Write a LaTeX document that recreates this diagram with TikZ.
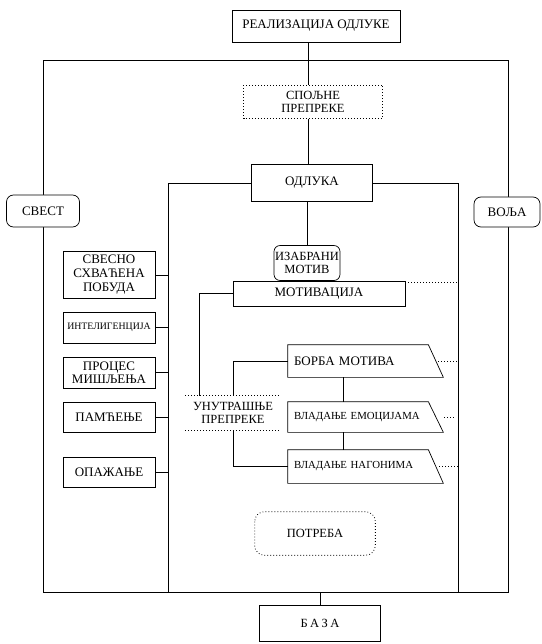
\documentclass[tikz,border=0pt]{standalone}
\usepackage{fontspec}
\setmainfont{Liberation Serif}
\usetikzlibrary{calc}
\begin{document}
\begin{tikzpicture}[x=1pt,y=-1pt,
  ln/.style={line width=0.7pt},
  dln/.style={line width=0.8pt, dash pattern=on 0.8pt off 2.2pt},
  box/.style={draw, line width=0.7pt, inner sep=2pt, align=center, fill=white,
    font=\fontsize{13}{14}\selectfont},
  rbox/.style={box, rounded corners=6pt},
  dbox/.style={box, draw=none},
  parabox/.style={box, draw=none, fill=none, text width=128pt, align=left, inner sep=6pt,
    minimum width=140pt}
]
\useasboundingbox (0,0) rectangle (541,644);

% frame coordinates
\coordinate (oTL) at (43,60);
\coordinate (oBR) at (508,592);
\coordinate (sp) at (308,60);
\coordinate (iL) at (168,0);
\coordinate (iR) at (458,0);
\coordinate (vx) at (343,0);

\draw[ln] (oTL) rectangle (oBR);

% nodes
\node[box, minimum width=168pt, minimum height=32pt] (real) at (316,26) {РЕАЛИЗАЦИЈА ОДЛУКЕ};
\node[dbox, minimum width=138pt, minimum height=33pt, font=\fontsize{12.5}{13}\selectfont] (spolj) at (313,102) {СПОЉНЕ\\ПРЕПРЕКЕ};
\node[box, minimum width=121pt, minimum height=37pt] (odluka) at (312,183) {ОДЛУКА};
\node[rbox, minimum width=60pt, minimum height=35pt, inner sep=1pt, font=\fontsize{12.5}{13}\selectfont] (izabr) at (307,263) {ИЗАБРАНИ\\МОТИВ};
\node[box, minimum width=172pt, minimum height=25pt] (motiv) at (319,293.5) {МОТИВАЦИЈА};

\node[rbox, minimum width=73pt, minimum height=32pt, rounded corners=7pt] (svest) at (43,211) {СВЕСТ};
\node[rbox, minimum width=66pt, minimum height=30pt, rounded corners=7pt] (volja) at (507,212) {ВОЉА};

\node[box, minimum width=92pt, minimum height=47pt] (svesno) at (109,275) {СВЕСНО\\СХВАЋЕНА\\ПОБУДА};
\node[box, minimum width=92pt, minimum height=31pt, font=\fontsize{9.8}{11}\selectfont] (intel) at (109,327.5) {ИНТЕЛИГЕНЦИЈА};
\node[box, minimum width=92pt, minimum height=31pt, font=\fontsize{13}{13}\selectfont] (proces) at (109,372.5) {ПРОЦЕС\\МИШЉЕЊА};
\node[box, minimum width=92pt, minimum height=30pt] (pamc) at (109,417) {ПАМЋЕЊЕ};
\node[box, minimum width=92pt, minimum height=30pt] (opaz) at (109,472) {ОПАЖАЊЕ};

\node[dbox, fill=none, minimum width=95pt, minimum height=34pt, font=\fontsize{12.5}{13}\selectfont] (unut) at (233,413) {УНУТРАШЊЕ\\ПРЕПРЕКЕ};

\node[parabox, minimum height=32pt] (borba) at (358,361) {БОРБА МОТИВА};
\node[parabox, minimum height=30pt, font=\fontsize{10.8}{12}\selectfont] (emoc) at (358,417) {ВЛАДАЊЕ ЕМОЦИЈАМА};
\node[parabox, minimum height=33pt, font=\fontsize{10.8}{12}\selectfont] (nagon) at (358,466.5) {ВЛАДАЊЕ НАГОНИМА};

\node[box, draw=none, minimum width=120pt, minimum height=43pt, font=\fontsize{12.5}{13}\selectfont] (potreba) at (315,533.5) {ПОТРЕБА};
\node[box, minimum width=121pt, minimum height=36pt, font=\fontsize{12.5}{13}\selectfont] (baza) at (320,623) {Б\hspace{2.5pt}А\hspace{2.5pt}З\hspace{2.5pt}А};

% dotted outlines
\draw[dln] (spolj.north west) rectangle (spolj.south east);
\draw[dln, rounded corners=10pt] (potreba.north west) rectangle (potreba.south east);
\draw[dln] (unut.north west) -- (unut.north east);
\draw[dln] (unut.south west) -- (unut.south east);

% parallelograms
\foreach \n in {borba,emoc,nagon}{
  \draw[ln] (\n.north west) -- (\n.north east) -- ($(\n.south east)+(15,0)$) -- (\n.south west) -- cycle;
}

% spine connectors
\draw[ln] (real.south -| sp) -- (spolj.north -| sp);
\draw[ln] (spolj.south -| sp) -- (odluka.north -| sp);
\draw[ln] (izabr.north) -- (izabr.north |- odluka.south);

% inner frame
\draw[ln] (odluka.west) -- (odluka.west -| iL) -- (iL |- oBR);
\draw[ln] (odluka.east) -- (odluka.east -| iR) -- (iR |- oBR);

% left boxes to inner frame
\foreach \n in {svesno,intel,proces,pamc,opaz}{
  \draw[ln] (\n.east) -- (\n.east -| iL);
}

% motivation to inner obstacles
\draw[ln] (motiv.west) -- ++(-33,0) coordinate (mk) -- (mk |- unut.north);
\draw[dln] (motiv.north east) ++(0,2) -- ++(53,0);

% inner obstacles to parallelograms
\draw[ln] (unut.north) -- (unut.north |- borba.west) -- (borba.west);
\draw[ln] (unut.south) -- (unut.south |- nagon.west) -- (nagon.west);
\draw[ln] (borba.south -| vx) -- (emoc.north -| vx);
\draw[ln] (emoc.south -| vx) -- (nagon.north -| vx);

% dotted tails
\draw[dln] ($(borba.east)+(10,0)$) -- (borba.east -| iR);
\draw[dln] ($(emoc.east)+(16,0)$) -- ++(10,0);
\draw[dln] ($(nagon.east)+(11,0)$) -- (nagon.east -| iR);

% base
\draw[ln] (baza.north) -- (baza.north |- oBR);
\end{tikzpicture}
\end{document}
